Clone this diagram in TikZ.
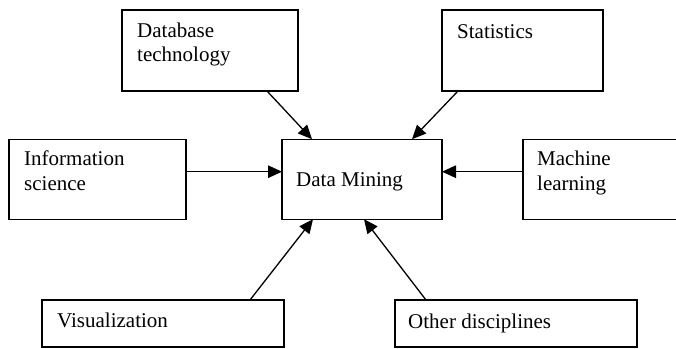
\documentclass[tikz,border=0pt]{standalone}
\usepackage{fontspec}
\setmainfont{Liberation Serif}
\usetikzlibrary{arrows.meta}

\begin{document}
\begin{tikzpicture}[x=1pt, y=-1pt,
  box/.style={draw, rectangle, line width=1.3pt, inner sep=0pt, outer sep=0pt},
  lbl/.style={anchor=base west, inner sep=0pt, font=\fontsize{21}{24}\selectfont},
  arr/.style={line width=1.3pt, -{Triangle[length=14pt, width=12.5pt]}}]
  \useasboundingbox (0,0) rectangle (676,348);
  \clip (0,0) rectangle (676,348);

  % boxes
  \node[box, minimum width=176pt, minimum height=81pt] (db)   at (210,50.5) {};
  \node[box, minimum width=161pt, minimum height=81pt] (stat) at (522.5,50.5) {};
  \node[box, minimum width=177pt, minimum height=80pt] (info) at (97.5,179.2) {};
  \node[box, minimum width=160pt, minimum height=80pt] (dm)   at (362,179.2) {};
  \node[box, minimum width=177pt, minimum height=80pt] (ml)   at (611.5,179.2) {};
  \node[box, minimum width=242pt, minimum height=47pt] (vis)  at (163,323.5) {};
  \node[box, minimum width=242pt, minimum height=47pt] (oth)  at (516,323.5) {};

  % labels
  \node[lbl] (dbA)   at (137,37.3)  {Database};
  \node[lbl] (dbB)   at (137,61.6)  {technology};
  \node[lbl] (statA) at (457,38.3)  {Statistics};
  \node[lbl] (infoA) at (24,165.7)  {Information};
  \node[lbl] (infoB) at (24,190)    {science};
  \node[lbl] (dmA)   at (296,186.7) {Data Mining};
  \node[lbl] (mlA)   at (537,165.7) {Machine};
  \node[lbl] (mlB)   at (537,190)   {learning};
  \node[lbl] (visA)  at (57,327.3)  {Visualization};
  \node[lbl] (othA)  at (408,328)   {Other disciplines};

  % connectors into Data Mining
  \draw[arr] ([xshift=145pt]db.south west) -- ([xshift=30pt]dm.north west);
  \draw[arr] ([xshift=16pt]stat.south west) -- ([xshift=130pt]dm.north west);
  \draw[arr] ([yshift=7.5pt]info.east) -- ([yshift=7.5pt]dm.west);
  \draw[arr] ([yshift=7.5pt]ml.west) -- ([yshift=7.5pt]dm.east);
  \draw[arr] ([xshift=208pt]vis.north west) -- ([xshift=31pt]dm.south west);
  \draw[arr] ([xshift=31pt]oth.north west) -- ([xshift=82pt]dm.south west);
\end{tikzpicture}
\end{document}
